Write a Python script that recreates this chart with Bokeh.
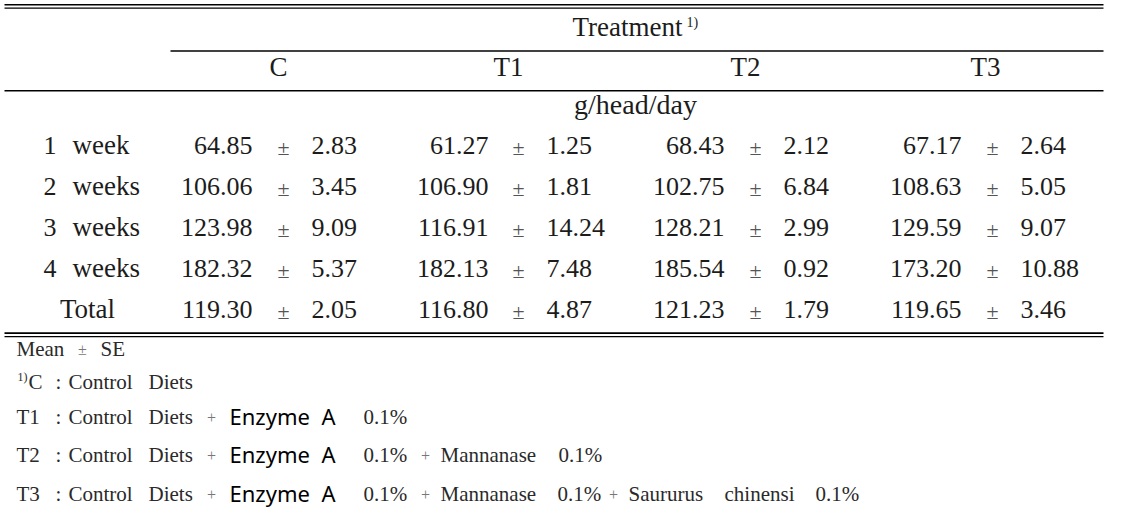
from bokeh.plotting import figure
from bokeh.models import ColumnDataSource
from bokeh.core.properties import value
from bokeh.embed import file_html
from bokeh.resources import INLINE

# ---------------- data ----------------
treatments = ["C", "T1", "T2", "T3"]
period_num = ["1", "2", "3", "4"]
period_word = ["week", "weeks", "weeks", "weeks"]
total_label = "Total"
unit_label = "g/head/day"
header_label = "Treatment"
header_sup = "1)"

mean_C = [64.85, 106.06, 123.98, 182.32, 119.30]
se_C = [2.83, 3.45, 9.09, 5.37, 2.05]
mean_T1 = [61.27, 106.90, 116.91, 182.13, 116.80]
se_T1 = [1.25, 1.81, 14.24, 7.48, 4.87]
mean_T2 = [68.43, 102.75, 128.21, 185.54, 121.23]
se_T2 = [2.12, 6.84, 2.99, 0.92, 1.79]
mean_T3 = [67.17, 108.63, 129.59, 173.20, 119.65]
se_T3 = [2.64, 5.05, 9.07, 10.88, 3.46]

note_mean = ["Mean", "±", "SE"]
note_c = ["1)", "C", ":", "Control", "Diets"]
note_t1 = ["T1", ":", "Control", "Diets", "+", "Enzyme", "A", "0.1%"]
note_t2 = ["T2", ":", "Control", "Diets", "+", "Enzyme", "A", "0.1%", "+", "Mannanase", "0.1%"]
note_t3 = ["T3", ":", "Control", "Diets", "+", "Enzyme", "A", "0.1%", "+", "Mannanase", "0.1%",
           "+", "Saururus", "chinensi", "0.1%"]

# ---------------- layout ----------------
SERIF = value("Liberation Serif")
SANS = value("Noto Sans")
INK = "#1c1c1c"
K = 0.38  # baseline correction (fraction of font size)

p = figure(width=1108, height=510, x_range=(0, 1108), y_range=(510, 0),
           output_backend="svg", toolbar_location=None, min_border=0)
p.axis.visible = False
p.grid.visible = False
p.outline_line_color = None
p.background_fill_color = "white"
p.border_fill_color = "white"

def bl(y, size):
    if isinstance(y, list):
        return [v - K * size for v in y]
    return y - K * size

# rules
rules = ColumnDataSource(dict(
    x0=[4, 4, 170, 4, 4, 4], x1=[1103, 1103, 1103, 1103, 1103, 1103],
    y=[4.3, 7.6, 50.5, 90.3, 332.6, 336.2],
    w=[1.6, 1.3, 1.5, 1.6, 1.6, 1.3]))
p.segment(x0="x0", x1="x1", y0="y", y1="y", line_width="w", line_color="black", source=rules)

def txt(x, y, t, size, font=SERIF, color=INK, align="left"):
    p.text(x=x, y=bl(y, size), text=t, text_font=font, text_font_size="%dpx" % size,
           text_color=color, text_align=align, text_baseline="alphabetic")

# header
txt([572], [37], [header_label], 27)
txt([686], [27], [header_sup], 14)
col_center = [278, 508, 745, 985]
txt(col_center, [77] * 4, treatments, 27, align="center")
txt([635], [115], [unit_label], 28, align="center")

# row labels
base = [155, 196, 237, 278, 319]
txt([56] * 4, base[:4], period_num, 26, align="right")
txt([72] * 4, base[:4], period_word, 27)
txt([87], [base[4]], [total_label], 27, align="center")

# values
anchors = [(252, 283, 311), (488, 518, 546), (724, 755, 783), (961, 992, 1020)]
for (m, s), (xm, xpm, xs) in zip([(mean_C, se_C), (mean_T1, se_T1), (mean_T2, se_T2), (mean_T3, se_T3)], anchors):
    src = ColumnDataSource(dict(y26=bl(base, 26), y22=bl(base, 22),
                                m=["%.2f" % v for v in m], s=["%.2f" % v for v in s],
                                pm=["±"] * len(m)))
    p.text(x=xm, y="y26", text="m", source=src, text_font=SERIF, text_font_size="26px",
           text_color=INK, text_align="right", text_baseline="alphabetic")
    p.text(x=xpm, y="y22", text="pm", source=src, text_font=SERIF, text_font_size="22px",
           text_color="#555555", text_align="center", text_baseline="alphabetic")
    p.text(x=xs, y="y26", text="s", source=src, text_font=SERIF, text_font_size="26px",
           text_color=INK, text_align="left", text_baseline="alphabetic")

# footnotes
NOTE = "#2a2a2a"
def seg(xs, y, words, kinds):
    for x, w, k in zip(xs, words, kinds):
        if k == "s":
            txt([x], [y], [w], 21, color=NOTE)
        elif k == "b":
            txt([x], [y], [w], 22, font=SANS, color="black")
        elif k == "p":
            txt([x], [y - 1], [w], 16, color="#777777", align="center")
        elif k == "u":
            txt([x], [y - 8], [w], 12, color=NOTE)
        elif k == "c":
            txt([x], [y], [w], 21, color=NOTE, align="center")

seg([16, 82, 100], 356, note_mean, ["s", "p", "s"])
seg([17, 28, 58, 68, 148], 389, note_c, ["u", "s", "c", "s", "s"])
head_x = [16, 58, 68, 148, 211, 229, 321, 363]
head_k = ["s", "c", "s", "s", "p", "b", "b", "s"]
seg(head_x, 424, note_t1, head_k)
seg(head_x + [425, 440, 558], 462, note_t2, head_k + ["p", "s", "s"])
seg(head_x + [425, 440, 557, 613, 628, 724, 815], 501, note_t3,
    head_k + ["p", "s", "s", "p", "s", "s", "s"])

open("out.html", "w").write(file_html(p, INLINE))
